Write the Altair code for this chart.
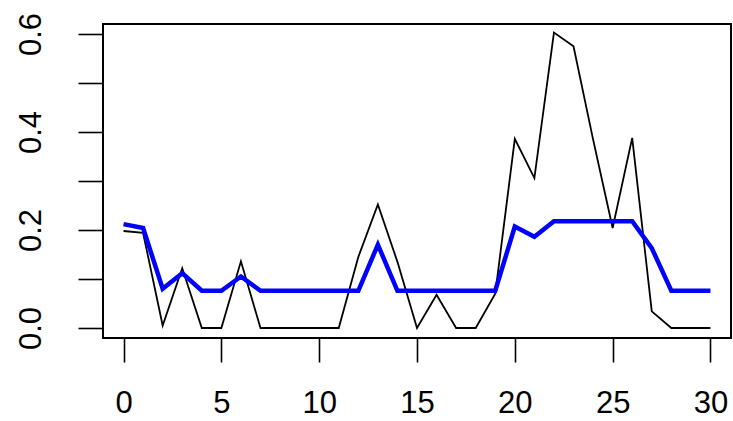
import altair as alt
import pandas as pd

# Time index and the two series
x_vals = list(range(31))
raw_vals = [0.198, 0.194, 0.005, 0.122, 0.0, 0.0, 0.136, 0.0, 0.0, 0.0,
            0.0, 0.0, 0.145, 0.252, 0.135, 0.0, 0.068, 0.0, 0.0, 0.07,
            0.386, 0.306, 0.603, 0.575, 0.385, 0.204, 0.388, 0.034, 0.0, 0.0, 0.0]
smooth_vals = [0.212, 0.204, 0.080, 0.112, 0.076, 0.076, 0.105, 0.076, 0.076, 0.076,
               0.076, 0.076, 0.076, 0.170, 0.076, 0.076, 0.076, 0.076, 0.076, 0.076,
               0.207, 0.186, 0.218, 0.218, 0.218, 0.218, 0.218, 0.163, 0.076, 0.076, 0.076]

x_ticks = [0, 5, 10, 15, 20, 25, 30]
y_ticks = [0.0, 0.1, 0.2, 0.3, 0.4, 0.5, 0.6]

df = pd.DataFrame({"x": x_vals, "raw": raw_vals, "smooth": smooth_vals})

FONT = "Liberation Sans"
W, H = 628, 314

x_enc = alt.X(
    "x:Q",
    scale=alt.Scale(domain=[-1.05, 31.05], nice=False, zero=False),
    axis=alt.Axis(
        values=x_ticks, title=None, grid=False, domain=False,
        tickSize=24, tickWidth=1.6, tickColor="black",
        labelFontSize=31, labelFont=FONT, labelColor="black",
        labelPadding=26, labelFlush=False,
    ),
)

y_scale = alt.Scale(domain=[-0.0204, 0.6204], nice=False, zero=False)
y_axis = alt.Axis(
    values=y_ticks, title=None, grid=False, domain=False,
    tickSize=25, tickWidth=1.6, tickColor="black",
    labelFontSize=31, labelFont=FONT, labelColor="black",
    labelAngle=270, labelAlign="center", labelBaseline="bottom",
    labelPadding=31, labelFlush=False,
    labelExpr="round(datum.value * 10) % 2 == 0 ? format(datum.value, '.1f') : ''",
)

raw_line = alt.Chart(df).mark_line(color="black", strokeWidth=1.8).encode(
    x=x_enc,
    y=alt.Y("raw:Q", scale=y_scale, axis=y_axis),
)

smooth_line = alt.Chart(df).mark_line(color="#0000FF", strokeWidth=4.5).encode(
    x="x:Q",
    y="smooth:Q",
)

# Plot frame around the data region
frame = alt.Chart(df).mark_rect(fill=None, stroke="black", strokeWidth=1.8).encode(
    x=alt.value(0), x2=alt.value(W), y=alt.value(0), y2=alt.value(H),
)

chart = (
    alt.layer(frame, raw_line, smooth_line)
    .properties(
        width=W, height=H,
        autosize="none",
        padding={"left": 103, "top": 24, "right": 2, "bottom": 83},
    )
    .configure_view(stroke=None, fill="white")
    .configure(background="white")
)

chart.save("out.html", embed_options={"renderer": "svg", "actions": False})
